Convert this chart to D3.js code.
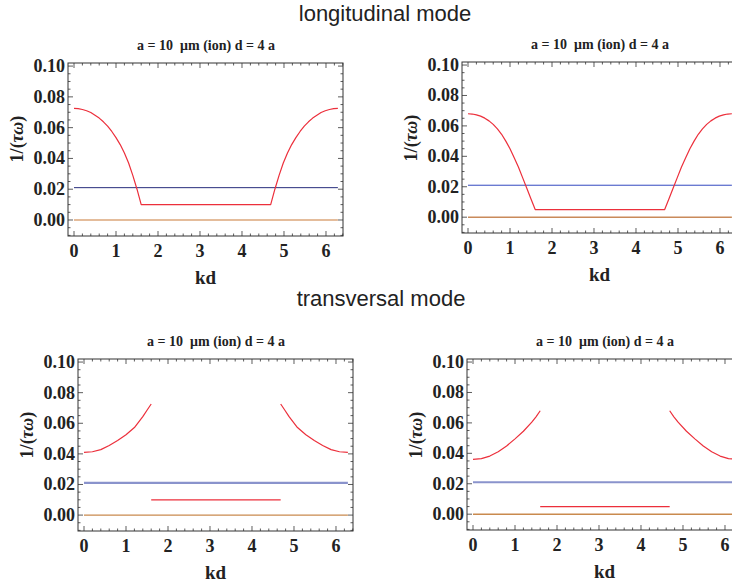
<!DOCTYPE html>
<html>
<head>
<meta charset="utf-8">
<script src="https://cdn.jsdelivr.net/npm/d3@7"></script>
<style>
  body { margin: 0; background: #fff; }
  svg { display: block; }
</style>
</head>
<body>
<svg id="chart" width="732" height="585"></svg>
<script>
// Values
const xTicks = [0, 1, 2, 3, 4, 5, 6];
const yTicks = [0.00, 0.02, 0.04, 0.06, 0.08, 0.10];
const sectionTitles = ['longitudinal mode', 'transversal mode'];
const panelTitle = 'a = 10 \u00a0\u03bcm (ion) d = 4 a';

// longitudinal curves: falling branch, flat floor, rising branch
const longKd = [0, 0.1, 0.2, 0.3, 0.4, 0.5, 0.6, 0.7, 0.8, 0.9, 1.0, 1.1, 1.2, 1.3, 1.4, 1.5, 1.6,
                4.683, 4.783, 4.883, 4.983, 5.083, 5.183, 5.283, 5.383, 5.483, 5.583, 5.683, 5.783, 5.883, 5.983, 6.083, 6.183, 6.283];
const long1 = [0.0725, 0.0723, 0.0718, 0.0710, 0.0698, 0.0680, 0.0662, 0.0638, 0.0610, 0.0575, 0.0535, 0.0490, 0.0435, 0.0370, 0.0290, 0.0200, 0.0100,
               0.0100, 0.0200, 0.0290, 0.0370, 0.0435, 0.0490, 0.0535, 0.0575, 0.0610, 0.0638, 0.0662, 0.0680, 0.0698, 0.0710, 0.0718, 0.0723, 0.0725];
const long2 = [0.0680, 0.0678, 0.0672, 0.0664, 0.0651, 0.0633, 0.0610, 0.0580, 0.0545, 0.0500, 0.0450, 0.0390, 0.0330, 0.0260, 0.0190, 0.0120, 0.0050,
               0.0050, 0.0120, 0.0190, 0.0260, 0.0330, 0.0390, 0.0450, 0.0500, 0.0545, 0.0580, 0.0610, 0.0633, 0.0651, 0.0664, 0.0672, 0.0678, 0.0680];

// transversal: two branches with a gap, plus a flat piece
const transKdL = [0, 0.2, 0.4, 0.6, 0.8, 1.0, 1.2, 1.4, 1.5, 1.6];
const transKdR = [4.683, 4.783, 4.883, 5.083, 5.283, 5.483, 5.683, 5.883, 6.083, 6.283];
const trans1L = [0.0410, 0.0414, 0.0428, 0.0455, 0.0487, 0.0525, 0.0572, 0.0643, 0.0685, 0.0726];
const trans1R = [0.0726, 0.0685, 0.0643, 0.0572, 0.0525, 0.0487, 0.0455, 0.0428, 0.0414, 0.0410];
const trans2L = [0.0360, 0.0365, 0.0382, 0.0410, 0.0448, 0.0495, 0.0545, 0.0605, 0.0640, 0.0680];
const trans2R = [0.0680, 0.0640, 0.0605, 0.0545, 0.0495, 0.0448, 0.0410, 0.0382, 0.0365, 0.0360];
const flatKd = [1.6, 4.683];
const flat1 = [0.010, 0.010];
const flat2 = [0.005, 0.005];

const lineKd = [0, 6.283];
const blueLevel = [0.021, 0.021];
const zeroLevel = [0, 0];

const svg = d3.select('#chart');
const serif = '"Liberation Serif", "Times New Roman", serif';
const sans = '"Liberation Sans", Arial, sans-serif';
const red = '#ec2f3b';
const ink = '#222';

const zip = (xs, ys) => xs.map((x, i) => [x, ys[i]]);

const panels = [
  { left: 68,  top: 63,  w: 275, h: 173, blue: '#262d7c', blueW: 1, orange: '#dba67a', orangeW: 1.6,
    series: [zip(longKd, long1)] },
  { left: 462, top: 62,  w: 275, h: 171, blue: '#3348c0', blueW: 1, orange: '#c98a5a', orangeW: 1.6,
    series: [zip(longKd, long2)] },
  { left: 78,  top: 359, w: 275, h: 172, blue: '#8a93cc', blueW: 2.2, orange: '#c98a4e', orangeW: 1.4,
    series: [zip(transKdL, trans1L), zip(transKdR, trans1R), zip(flatKd, flat1)] },
  { left: 467, top: 359, w: 275, h: 171, blue: '#8a93cc', blueW: 2.2, orange: '#c98a4e', orangeW: 1.4,
    series: [zip(transKdL, trans2L), zip(transKdR, trans2R), zip(flatKd, flat2)] }
];

// section headings
svg.append('text').attr('x', 385).attr('y', 21).attr('text-anchor', 'middle')
  .attr('font-family', sans).attr('font-size', 22).attr('fill', ink).text(sectionTitles[0]);
svg.append('text').attr('x', 381).attr('y', 306).attr('text-anchor', 'middle')
  .attr('font-family', sans).attr('font-size', 22).attr('fill', ink).text(sectionTitles[1]);

panels.forEach(p => {
  const x = d3.scaleLinear().domain([-0.143, 6.405]).range([p.left, p.left + p.w]);
  const y = d3.scaleLinear().domain([-0.0104, 0.102]).range([p.top + p.h, p.top]);
  const g = svg.append('g');

  const line = d3.line().x(d => x(d[0])).y(d => y(d[1]));

  // reference levels
  g.append('path').datum(zip(lineKd, zeroLevel)).attr('d', line)
    .attr('fill', 'none').attr('stroke', p.orange).attr('stroke-width', p.orangeW);
  g.append('path').datum(zip(lineKd, blueLevel)).attr('d', line)
    .attr('fill', 'none').attr('stroke', p.blue).attr('stroke-width', p.blueW);

  // damping curves
  p.series.forEach(s => {
    g.append('path').datum(s).attr('d', line)
      .attr('fill', 'none').attr('stroke', red).attr('stroke-width', 1.2)
      .attr('stroke-linejoin', 'round');
  });

  // frame
  g.append('rect').attr('x', p.left).attr('y', p.top).attr('width', p.w).attr('height', p.h)
    .attr('fill', 'none').attr('stroke', '#333').attr('stroke-width', 1);

  // inward ticks on all four sides
  const xMinor = d3.range(0, 6.41, 0.2).filter(v => Math.abs(v - Math.round(v)) > 1e-6);
  const yMinor = d3.range(-0.01, 0.1001, 0.005).filter(v => Math.abs(v / 0.02 - Math.round(v / 0.02)) > 1e-6);
  const tk = g.append('g').attr('stroke', '#333').attr('stroke-width', 0.8);
  const bottom = p.top + p.h, right = p.left + p.w;
  xTicks.forEach(v => {
    tk.append('line').attr('x1', x(v)).attr('x2', x(v)).attr('y1', bottom).attr('y2', bottom - 5);
    tk.append('line').attr('x1', x(v)).attr('x2', x(v)).attr('y1', p.top).attr('y2', p.top + 5);
  });
  xMinor.forEach(v => {
    tk.append('line').attr('x1', x(v)).attr('x2', x(v)).attr('y1', bottom).attr('y2', bottom - 2.5);
    tk.append('line').attr('x1', x(v)).attr('x2', x(v)).attr('y1', p.top).attr('y2', p.top + 2.5);
  });
  yTicks.forEach(v => {
    tk.append('line').attr('y1', y(v)).attr('y2', y(v)).attr('x1', p.left).attr('x2', p.left + 5);
    tk.append('line').attr('y1', y(v)).attr('y2', y(v)).attr('x1', right).attr('x2', right - 5);
  });
  yMinor.forEach(v => {
    tk.append('line').attr('y1', y(v)).attr('y2', y(v)).attr('x1', p.left).attr('x2', p.left + 2.5);
    tk.append('line').attr('y1', y(v)).attr('y2', y(v)).attr('x1', right).attr('x2', right - 2.5);
  });

  // tick labels
  const lab = g.append('g').attr('font-family', serif).attr('font-weight', 'bold')
    .attr('font-size', 18).attr('fill', ink);
  xTicks.forEach(v => {
    lab.append('text').attr('x', x(v)).attr('y', bottom + 21).attr('text-anchor', 'middle').text(v);
  });
  yTicks.forEach(v => {
    lab.append('text').attr('x', p.left - 3).attr('y', y(v) + 6).attr('text-anchor', 'end')
      .text(d3.format('.2f')(v));
  });

  // axis titles
  g.append('text').attr('x', p.left + p.w / 2).attr('y', bottom + 48).attr('text-anchor', 'middle')
    .attr('font-family', serif).attr('font-weight', 'bold').attr('font-size', 19).attr('fill', ink)
    .text('kd');
  const yl = g.append('text')
    .attr('transform', `translate(${p.left - 45},${p.top + 76}) rotate(-90)`)
    .attr('text-anchor', 'middle').attr('font-family', serif).attr('font-weight', 'bold')
    .attr('font-size', 18).attr('fill', ink);
  yl.append('tspan').text('1/(');
  yl.append('tspan').attr('font-style', 'italic').text('\u03c4\u03c9');
  yl.append('tspan').text(')');

  // panel title
  g.append('text').attr('x', p.left + 138).attr('y', p.top - 13).attr('text-anchor', 'middle')
    .attr('font-family', serif).attr('font-weight', 'bold').attr('font-size', 14).attr('fill', ink)
    .text(panelTitle);
});
</script>
</body>
</html>
